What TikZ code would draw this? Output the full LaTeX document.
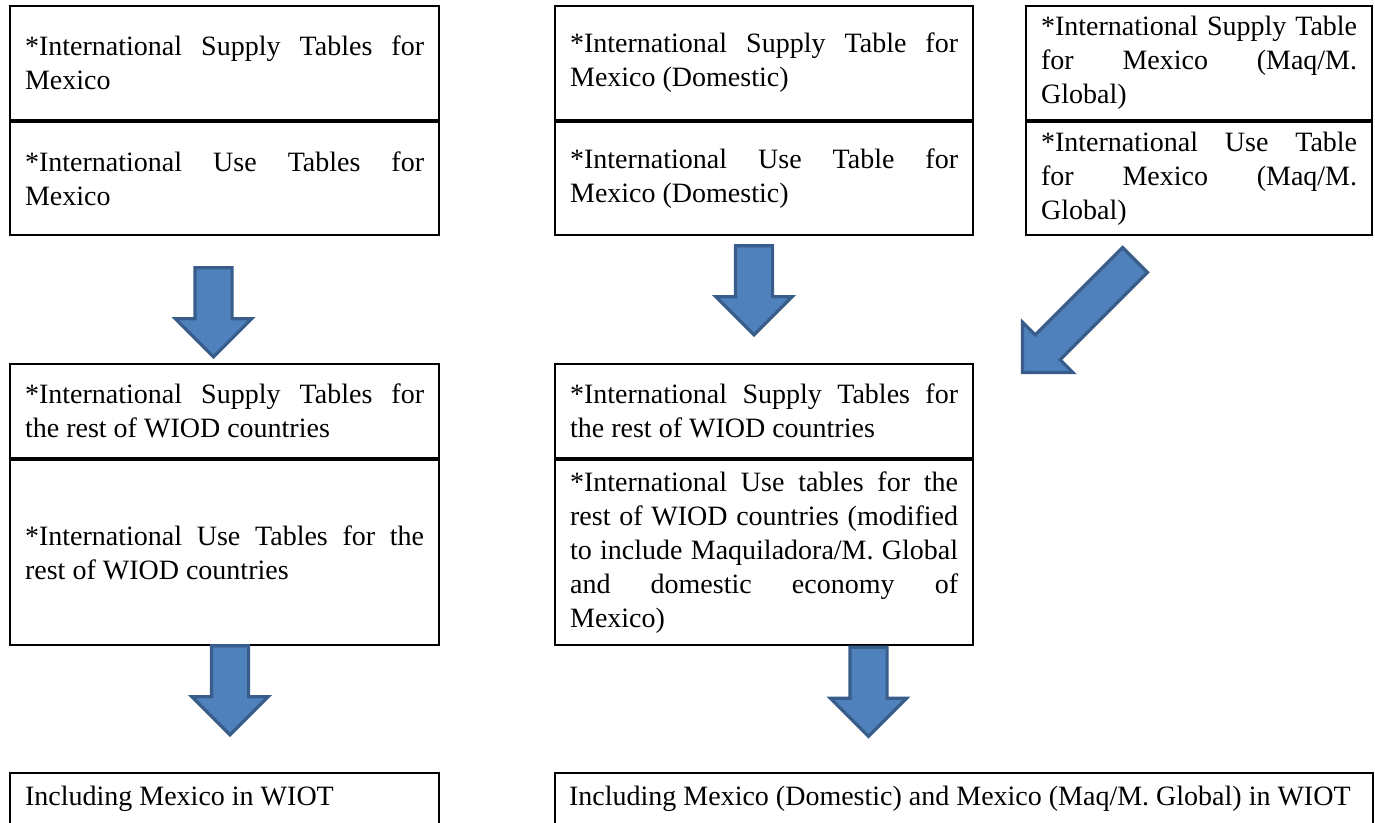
\documentclass[tikz,border=0pt]{standalone}
\usepackage{fontspec}
\setmainfont{Liberation Serif}
\usetikzlibrary{shapes.arrows}

\definecolor{arrowfill}{HTML}{4F81BD}
\definecolor{arrowedge}{HTML}{385D8A}

\newcommand{\cellfont}{\fontsize{28pt}{34pt}\selectfont
    \spaceskip=0.25em plus 0.8em\relax
    \hyphenpenalty=10000 \tolerance=9999 }

\tikzset{
    cell/.style={draw, line width=2.2pt, anchor=north west, inner xsep=15pt,
        inner ysep=0pt, align=justify, font=\cellfont},
    wide/.style={cell, text width=399pt},
    mid/.style={cell, text width=388pt},
    narrow/.style={cell, text width=316pt},
    foot/.style={text height=28pt, text depth=80pt, inner ysep=4pt},
    blockarrow/.style={single arrow, draw=arrowedge, fill=arrowfill,
        line width=3.2pt, inner xsep=0pt, inner ysep=17pt,
        single arrow head extend=19.5pt, minimum height=89pt}
}

\begin{document}
\begin{tikzpicture}[x=1pt, y=-1pt]
    \useasboundingbox (0,0) rectangle (1375,822);

    \node[wide, minimum height=114pt] (supMx) at (9,5) {*International Supply Tables for Mexico};
    \node[wide, minimum height=113pt] (useMx) at (supMx.south west) {*International Use Tables for Mexico};

    \node[mid, minimum height=114pt] (supDom) at (554,5) {*International Supply Table for Mexico (Domestic)};
    \node[mid, minimum height=113pt] (useDom) at (supDom.south west) {*International Use Table for Mexico (Domestic)};

    \node[narrow, minimum height=114pt] (supMaq) at (1025,5) {*International Supply Table for Mexico (Maq/M. Global)};
    \node[narrow, minimum height=113pt] (useMaq) at (supMaq.south west) {*International Use Table for Mexico (Maq/M. Global)};

    \node[wide, minimum height=94pt] (supRestA) at (9,363) {*International Supply Tables for the rest of WIOD countries};
    \node[wide, minimum height=185pt] (useRestA) at (supRestA.south west) {*International Use Tables for the rest of WIOD countries};

    \node[mid, minimum height=94pt] (supRestB) at (554,363) {*International Supply Tables for the rest of WIOD countries};
    \node[mid, minimum height=185pt] (useRestB) at (supRestB.south west) {*International Use tables for the rest of WIOD countries (modified to include Maquiladora/M. Global and domestic economy of Mexico)};

    \node[wide, foot] (wiotA) at (9,772) {Including Mexico in WIOT};
    \node[cell, foot, text width=790pt, inner xsep=14pt] (wiotB) at (554,772) {Including Mexico (Domestic) and Mexico (Maq/M. Global) in WIOT};

    \node[blockarrow, rotate=-90] (arrA) at (213.5,303) {};
    \node[blockarrow, rotate=-90] (arrB) at (754,281) {};
    \node[blockarrow, rotate=-90] (arrC) at (230,681) {};
    \node[blockarrow, rotate=-90] (arrD) at (868.5,682.5) {};
    \node[blockarrow, rotate=225, minimum height=159pt, inner ysep=16pt,
        single arrow head extend=18pt] (arrE) at (1085,310) {};
\end{tikzpicture}
\end{document}
